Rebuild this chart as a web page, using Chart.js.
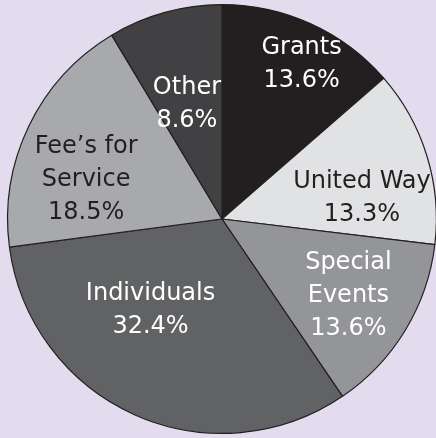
<!DOCTYPE html>
<html>
<head>
<meta charset="utf-8">
<script src="https://cdn.jsdelivr.net/npm/chart.js@4.4.0/dist/chart.umd.min.js"></script>
<style>
  html, body { margin: 0; padding: 0; background: #e3dcee; overflow: hidden; }
  #wrap { width: 444px; height: 438px; }
</style>
</head>
<body>
<div id="wrap"><canvas id="chart" width="444" height="438"></canvas></div>
<script>
const categories = ["Grants", "United Way", "Special Events", "Individuals", "Fee's for Service", "Other"];
const labelLines = [["Grants"], ["United Way"], ["Special", "Events"], ["Individuals"], ["Fee’s for", "Service"], ["Other"]];
const shares = [13.6, 13.3, 13.6, 32.4, 18.5, 8.6];
const sliceColors = ["#231f20", "#e1e2e3", "#939598", "#616264", "#a7a9ac", "#414042"];
const textColors = ["#ffffff", "#231f20", "#ffffff", "#ffffff", "#231f20", "#ffffff"];

// where each label sits inside its slice: angle shift (deg) from mid, radius fraction
const labelPlace = [
  { shift: 2.8, r: 0.81 },
  { shift: 8.6, r: 0.66 },
  { shift: 0, r: 0.69 },
  { shift: 14, r: 0.54 },
  { shift: -9.5, r: 0.66 },
  { shift: -1.5, r: 0.56 }
];

const sliceLabels = {
  id: "sliceLabels",
  afterDatasetsDraw(chart) {
    const ctx = chart.ctx;
    const meta = chart.getDatasetMeta(0);
    ctx.save();
    ctx.font = '24px "Comic Sans MS", "DejaVu Sans", sans-serif';
    ctx.textAlign = "center";
    ctx.textBaseline = "middle";
    meta.data.forEach((arc, i) => {
      const p = arc.getProps(["x", "y", "startAngle", "endAngle", "outerRadius"], true);
      const a = (p.startAngle + p.endAngle) / 2 + labelPlace[i].shift * Math.PI / 180;
      const r = p.outerRadius * labelPlace[i].r;
      const cx = p.x + Math.cos(a) * r;
      const cy = p.y + Math.sin(a) * r;
      const lines = labelLines[i].concat([shares[i].toFixed(1) + "%"]);
      const lh = 33;
      const top = cy - (lines.length - 1) * lh / 2;
      ctx.fillStyle = textColors[i];
      lines.forEach((t, k) => ctx.fillText(t, cx, top + k * lh));
    });
    ctx.restore();
  }
};

const ctx = document.getElementById("chart").getContext("2d");
new Chart(ctx, {
  type: "pie",
  data: {
    labels: categories,
    datasets: [{
      data: shares,
      backgroundColor: sliceColors,
      borderColor: "#231f20",
      borderWidth: 1.2
    }]
  },
  options: {
    responsive: false,
    animation: false,
    layout: { padding: { top: 4, bottom: 4 } },
    plugins: {
      legend: { display: false },
      tooltip: { enabled: false }
    }
  },
  plugins: [sliceLabels]
});
</script>
</body>
</html>
